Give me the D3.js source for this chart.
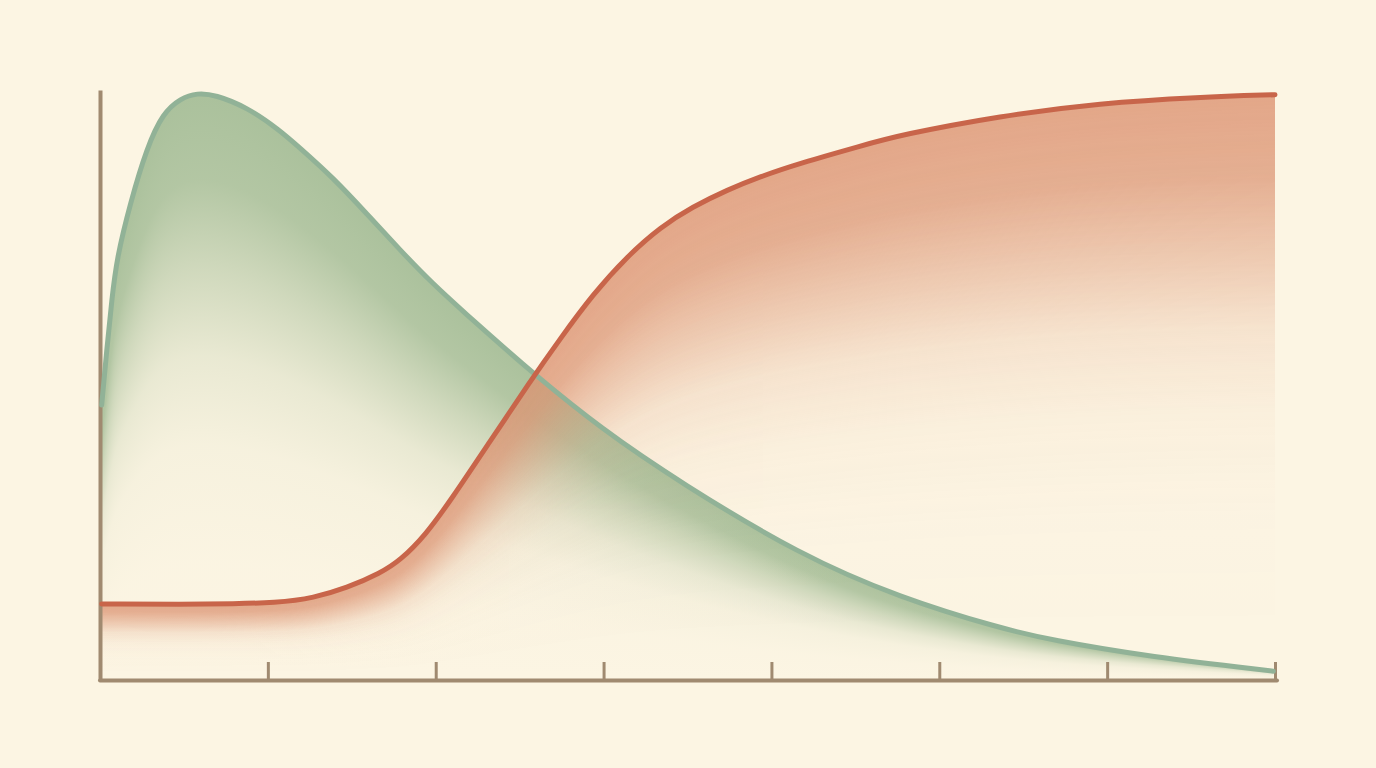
<!DOCTYPE html>
<html>
<head>
<meta charset="utf-8">
<script src="https://cdn.jsdelivr.net/npm/d3@7"></script>
<style>
  html, body { margin: 0; padding: 0; background: #fcf5e3; }
  svg { display: block; }
</style>
</head>
<body>
<svg id="chart" width="1376" height="768"></svg>
<script>
// ---- data ----
const xTicks = [1, 2, 3, 4, 5, 6, 7];

const greenX = [0.01, 0.04, 0.07, 0.10, 0.18, 0.28, 0.375, 0.48, 0.58, 0.685, 0.875, 1.07, 1.19, 1.39, 1.59, 1.79, 1.98, 2.19, 2.38, 2.58, 2.98, 3.46, 4.17, 4.77, 5.36, 5.66, 6.26, 6.99];
const greenY = [46.6, 55.9, 64.4, 71.5, 80.8, 90.3, 96.1, 98.6, 99.5, 99.2, 97.1, 93.2, 90.2, 85.1, 79.0, 72.8, 67.2, 61.8, 57.0, 52.0, 42.7, 33.4, 21.2, 13.9, 8.8, 6.8, 3.9, 1.5];

const redX = [0.01, 0.67, 1.07, 1.27, 1.47, 1.67, 1.79, 1.94, 2.09, 2.32, 2.56, 2.74, 2.94, 3.14, 3.34, 3.53, 3.74, 3.93, 4.17, 4.53, 4.77, 5.36, 5.96, 6.55, 7.0];
const redY = [12.9, 12.8, 13.1, 13.9, 15.6, 18.1, 20.3, 24.6, 30.5, 40.3, 50.5, 57.8, 65.5, 71.8, 76.8, 80.2, 83.1, 85.3, 87.6, 90.5, 92.4, 95.6, 97.8, 98.8, 99.2];

(function () {
// ---- layout ----
const W = 1376, H = 768;
const mLeft = 100, mRight = 1275, mTop = 90, mBottom = 680;

const svg = d3.select("#chart");
const x = d3.scaleLinear().domain([0, 7]).range([mLeft, mRight]);
const y = d3.scaleLinear().domain([0, 100]).range([mBottom, mTop]);

const green = d3.zip(greenX, greenY);
const red = d3.zip(redX, redY);

const curve = d3.curveBasis;
const line = d3.line().x(d => x(d[0])).y(d => y(d[1])).curve(curve);
const area = d3.area().x(d => x(d[0])).y0(y(0)).y1(d => y(d[1])).curve(curve);

svg.append("rect").attr("width", W).attr("height", H).attr("fill", "#fcf5e3");

const defs = svg.append("defs");
defs.append("clipPath").attr("id", "clipGreen").append("path").attr("d", area(green));
defs.append("clipPath").attr("id", "clipRed").append("path").attr("d", area(red));

// per-column fade gradient (from the curve down to the baseline)
function colGrad(id, color, stops) {
  const g = defs.append("linearGradient").attr("id", id)
    .attr("x1", 0).attr("y1", 0).attr("x2", 0).attr("y2", 1);
  stops.forEach(([o, a]) => g.append("stop").attr("offset", o)
    .attr("stop-color", color).attr("stop-opacity", a));
}
colGrad("gradG", "#a6be98", [[0, 0.95], [0.15, 0.85], [0.3, 0.52], [0.45, 0.22], [0.6, 0.07], [0.8, 0.015], [1, 0]]);
colGrad("gradR", "#dc9473", [[0, 0.95], [0.14, 0.86], [0.28, 0.52], [0.4, 0.22], [0.54, 0.07], [0.72, 0.015], [1, 0]]);

// sample the rendered curve to get its top y at every pixel column
function columns(pathD) {
  const p = svg.append("path").attr("d", pathD).attr("fill", "none").attr("stroke", "none");
  const node = p.node();
  const len = node.getTotalLength();
  const topY = new Map();
  for (let s = 0; s <= len; s += 0.5) {
    const pt = node.getPointAtLength(s);
    const cx = Math.floor(pt.x);
    if (!topY.has(cx) || pt.y < topY.get(cx)) topY.set(cx, pt.y);
  }
  p.remove();
  return Array.from(topY, ([cx, cy]) => ({ cx, cy })).sort((a, b) => a.cx - b.cx);
}

function fillLayer(data, clipId, gradId, opacity) {
  const g = svg.append("g").attr("clip-path", `url(#${clipId})`).attr("opacity", opacity)
    .attr("shape-rendering", "crispEdges");
  g.selectAll("rect").data(columns(line(data))).join("rect")
    .attr("x", d => d.cx).attr("width", 1)
    .attr("y", d => d.cy - 3).attr("height", d => y(0) - d.cy + 3)
    .attr("fill", `url(#${gradId})`);
}
fillLayer(green, "clipGreen", "gradG", 1);
fillLayer(red, "clipRed", "gradR", 0.85);

// axes
const axisColor = "#a08a70";
const xAxis = svg.append("g").attr("transform", `translate(0,${mBottom})`)
  .call(d3.axisBottom(x).tickValues(xTicks).tickSizeInner(-18).tickSizeOuter(0).tickFormat(""));
xAxis.select(".domain").attr("stroke", axisColor).attr("stroke-width", 4).attr("stroke-linecap", "round")
  .attr("d", `M${mLeft},0.5H${mRight + 2}`);
xAxis.selectAll(".tick line").attr("stroke", axisColor).attr("stroke-width", 3);

const yAxis = svg.append("g").attr("transform", `translate(${mLeft},0)`)
  .call(d3.axisLeft(y).tickValues([]).tickSizeOuter(0));
yAxis.select(".domain").attr("stroke", axisColor).attr("stroke-width", 4);

// lines
svg.append("path").attr("d", line(green))
  .attr("fill", "none").attr("stroke", "#91b297").attr("stroke-width", 5).attr("stroke-linecap", "round");
svg.append("path").attr("d", line(red))
  .attr("fill", "none").attr("stroke", "#c8654a").attr("stroke-width", 5).attr("stroke-linecap", "round");
})();
</script>
</body>
</html>
